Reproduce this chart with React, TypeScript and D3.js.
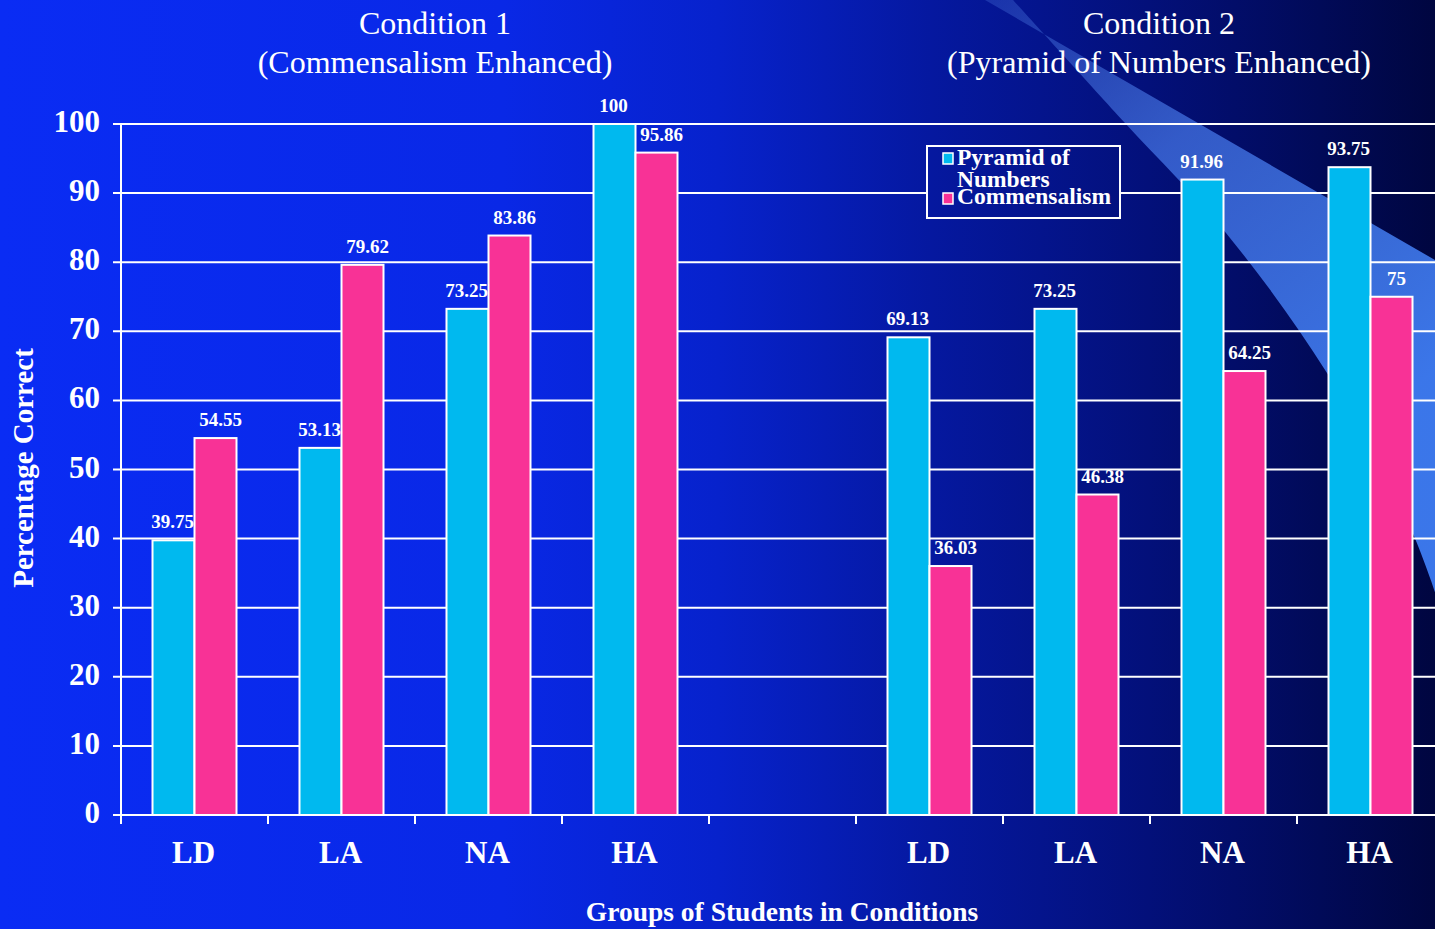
import React from "react";
import * as d3 from "d3";

// ---- data ----
const groups = ["LD", "LA", "NA", "HA"];
const slots = ["c1-LD", "c1-LA", "c1-NA", "c1-HA", "gap", "c2-LD", "c2-LA", "c2-NA", "c2-HA"];
const seriesNames = ["Pyramid of Numbers", "Commensalism"];
const pyramidCond1 = [39.75, 53.13, 73.25, 100];
const commensCond1 = [54.55, 79.62, 83.86, 95.86];
const pyramidCond2 = [69.13, 73.25, 91.96, 93.75];
const commensCond2 = [36.03, 46.38, 64.25, 75];
const yTicks = [0, 10, 20, 30, 40, 50, 60, 70, 80, 90, 100];
const titles = [
  ["Condition 1", "(Commensalism Enhanced)"],
  ["Condition 2", "(Pyramid of Numbers Enhanced)"],
];

const W = 1435;
const H = 929;
const colors = ["#00b9ef", "#f83296"];
const FONT = "'Liberation Serif', 'Times New Roman', serif";

export default function App() {
  const x = d3.scaleBand<string>().domain(slots).range([121, 121 + 9 * 147]).padding(0);
  const inner = d3
    .scaleBand<string>()
    .domain(seriesNames)
    .range([(x.bandwidth() - 84) / 2, (x.bandwidth() + 84) / 2]);
  const y = d3.scaleLinear().domain([0, 100]).range([815, 124]);

  const rows = [
    ...groups.map((g, i) => ({ slot: "c1-" + g, vals: [pyramidCond1[i], commensCond1[i]] })),
    ...groups.map((g, i) => ({ slot: "c2-" + g, vals: [pyramidCond2[i], commensCond2[i]] })),
  ];

  // decorative light beam (top right), lower edge curves
  const lower: [number, number][] = [
    [W, 592],
    [1410, 527],
    [1327, 373],
    [1226, 233],
    [1125, 123],
    [1013, 0],
  ];
  const lowerPath = d3.line().curve(d3.curveCatmullRom)(lower) || "";
  const beamPath = `M985,0 L${W},260 L${W},592 ` + lowerPath.replace(/^M[^C]*?(?=C)/, "") + " Z";

  const condCenters = [
    (x("c1-LD")! + x("c1-HA")! + x.bandwidth()) / 2 + 20,
    (x("c2-LD")! + x("c2-HA")! + x.bandwidth()) / 2 + 9,
  ];
  const labelShift = [-1, 5];

  return (
    <svg
      width={W}
      height={H}
      style={{ position: "absolute", left: 0, top: 0, display: "block" }}
      fontFamily={FONT}
    >
      <defs>
        <linearGradient id="bg" gradientUnits="userSpaceOnUse" x1={0} y1={0} x2={W} y2={0}>
          <stop offset="0" stopColor="#0a2cf4" />
          <stop offset="0.35" stopColor="#0928e6" />
          <stop offset="0.5" stopColor="#0722cc" />
          <stop offset="0.65" stopColor="#05189f" />
          <stop offset="0.8" stopColor="#03107a" />
          <stop offset="0.92" stopColor="#010a58" />
          <stop offset="1" stopColor="#000640" />
        </linearGradient>
        <linearGradient id="beam" gradientUnits="userSpaceOnUse" x1={990} y1={0} x2={1380} y2={420}>
          <stop offset="0" stopColor="#5a8cf0" stopOpacity={0.25} />
          <stop offset="0.4" stopColor="#4a7ef0" stopOpacity={0.68} />
          <stop offset="1" stopColor="#3e7cf2" stopOpacity={0.95} />
        </linearGradient>
      </defs>
      <rect x={0} y={0} width={W} height={H} fill="url(#bg)" />
      <path d={beamPath} fill="url(#beam)" />

      {/* titles */}
      {titles.map((t, i) => (
        <g key={i} fill="#fff" fontSize={32} textAnchor="middle">
          <text x={condCenters[i]} y={34}>{t[0]}</text>
          <text x={condCenters[i]} y={73}>{t[1]}</text>
        </g>
      ))}

      {/* gridlines + y ticks */}
      {yTicks.map((t) => (
        <g key={t}>
          <line x1={113} x2={W} y1={y(t)} y2={y(t)} stroke="#fff" strokeWidth={2} />
          <text
            x={100}
            y={y(t)}
            dy="0.26em"
            textAnchor="end"
            fill="#fff"
            fontSize={31}
            fontWeight="bold"
          >
            {t}
          </text>
        </g>
      ))}
      <line x1={121} x2={121} y1={y(100)} y2={824} stroke="#fff" strokeWidth={2} />
      {slots.map((s) => (
        <line key={s} x1={x(s)!} x2={x(s)!} y1={815} y2={824} stroke="#fff" strokeWidth={2} />
      ))}

      {/* bars */}
      {rows.map((r) => (
        <g key={r.slot} transform={`translate(${x(r.slot)},0)`}>
          {r.vals.map((v, k) => (
            <g key={k}>
              <rect
                x={inner(seriesNames[k])!}
                y={y(v)}
                width={inner.bandwidth()}
                height={y(0) - y(v)}
                fill={colors[k]}
                stroke="#fff"
                strokeWidth={2}
              />
              <text
                x={inner(seriesNames[k])! + inner.bandwidth() / 2 + labelShift[k]}
                y={y(v) - 12}
                textAnchor="middle"
                fill="#fff"
                fontSize={19}
                fontWeight="bold"
              >
                {v}
              </text>
            </g>
          ))}
        </g>
      ))}

      {/* x category labels */}
      {rows.map((r) => (
        <text
          key={r.slot}
          x={x(r.slot)! + x.bandwidth() / 2 - 1}
          y={863}
          textAnchor="middle"
          fill="#fff"
          fontSize={31}
          fontWeight="bold"
        >
          {r.slot.slice(3)}
        </text>
      ))}

      {/* axis titles */}
      <text x={782} y={921} textAnchor="middle" fill="#fff" fontSize={27.5} fontWeight="bold">
        Groups of Students in Conditions
      </text>
      <text
        transform="translate(33,468) rotate(-90)"
        textAnchor="middle"
        fill="#fff"
        fontSize={29}
        fontWeight="bold"
      >
        Percentage Correct
      </text>

      {/* legend */}
      <g>
        <rect x={927} y={146} width={193} height={72} fill="url(#bg)" stroke="#fff" strokeWidth={2} />
        <rect x={943} y={153} width={10} height={11} fill={colors[0]} stroke="#fff" strokeWidth={1.5} />
        <rect x={943} y={193} width={10} height={11} fill={colors[1]} stroke="#fff" strokeWidth={1.5} />
        <g fill="#fff" fontSize={23.5} fontWeight="bold">
          <text x={957} y={165}>Pyramid of</text>
          <text x={957} y={187}>Numbers</text>
          <text x={957} y={204}>Commensalism</text>
        </g>
      </g>
    </svg>
  );
}
